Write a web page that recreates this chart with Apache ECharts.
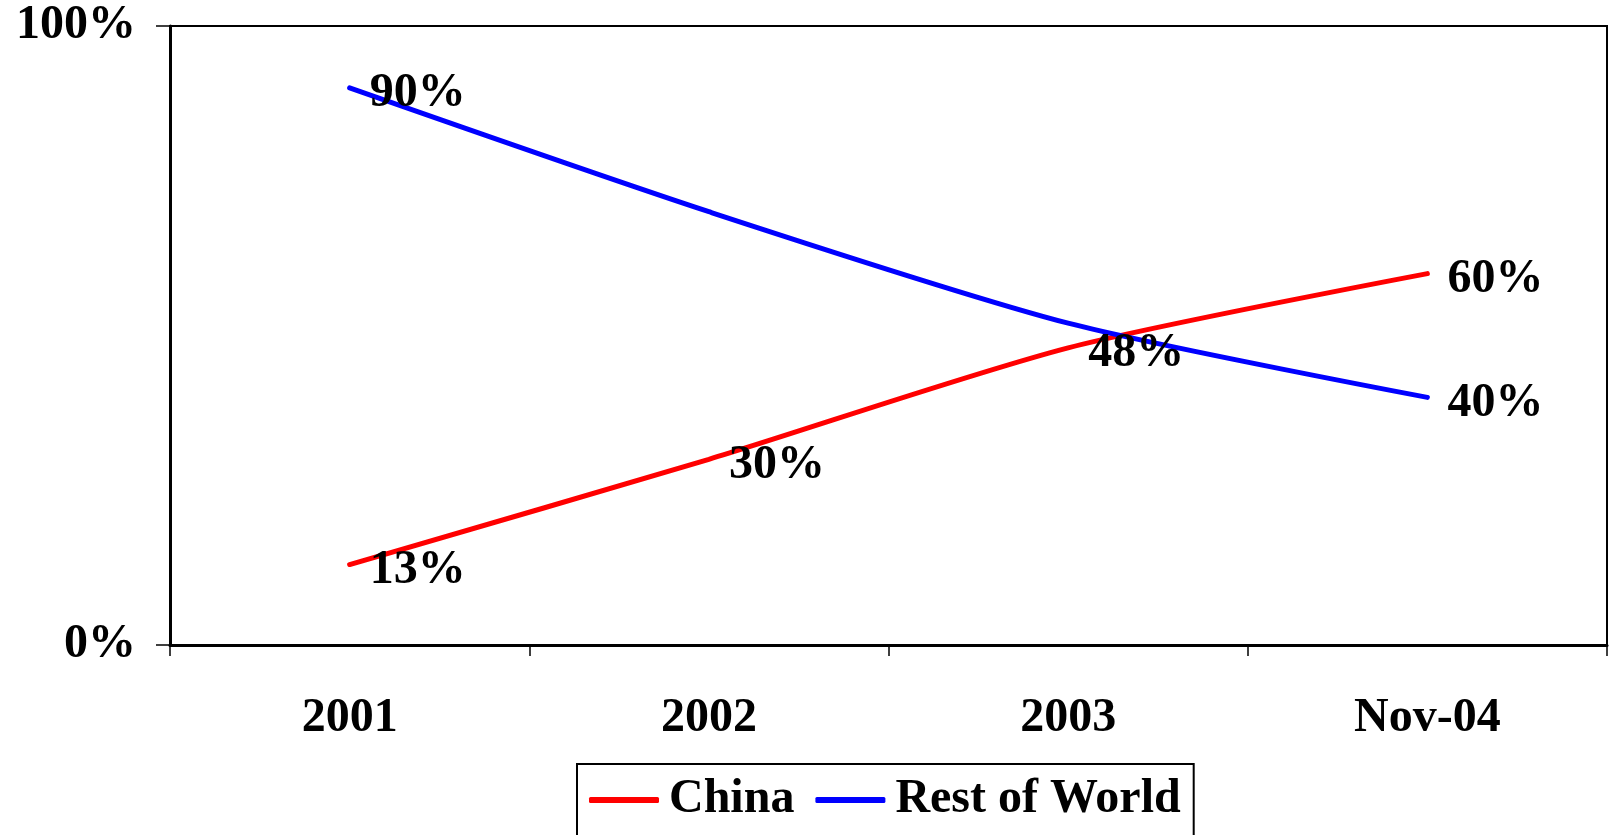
<!DOCTYPE html>
<html>
<head>
<meta charset="utf-8">
<script src="https://cdn.jsdelivr.net/npm/echarts@6/dist/echarts.min.js"></script>
<style>
html,body{margin:0;padding:0;background:#fff;}
#c{width:1615px;height:835px;}
</style>
</head>
<body>
<div id="c"></div>
<script>
const categories = ['2001', '2002', '2003', 'Nov-04'];
const chinaValues = [13, 30, 48, 60];
const rowValues = [90, 70, 52, 40];
const rowLabelShown = [true, false, false, true];
const yTicks = [0, 100];

const FONT = '"Liberation Serif", "Times New Roman", serif';
const chart = echarts.init(document.getElementById('c'), null, {renderer: 'canvas'});

const labelBase = {
  show: true,
  position: 'right',
  distance: 20,
  offset: [0, 6],
  formatter: p => p.value + '%',
  color: '#000',
  fontFamily: FONT,
  fontWeight: 'bold',
  fontSize: 48
};

chart.setOption({
  animation: false,
  backgroundColor: '#fff',
  grid: {
    left: 170, right: 8, top: 26, bottom: 190,
    show: true, borderColor: '#000', borderWidth: 2, backgroundColor: 'transparent'
  },
  legend: {
    left: 577, top: 764,
    padding: [12, 13, 30, 12],
    borderColor: '#000', borderWidth: 2,
    itemWidth: 70, itemHeight: 6, itemGap: 21,
    icon: 'roundRect',
    textStyle: {fontFamily: FONT, fontWeight: 'bold', fontSize: 48, color: '#000', padding: [0, 0, 0, 5]},
    data: ['China', 'Rest of World']
  },
  xAxis: {
    type: 'category',
    data: categories,
    boundaryGap: true,
    axisLine: {lineStyle: {color: '#000', width: 3}},
    axisTick: {show: true, length: 11, lineStyle: {color: '#000', width: 1.5}},
    axisLabel: {color: '#000', fontFamily: FONT, fontWeight: 'bold', fontSize: 48, margin: 50},
    splitLine: {show: false}
  },
  yAxis: {
    type: 'value',
    min: yTicks[0], max: yTicks[1], interval: yTicks[1] - yTicks[0],
    axisLine: {show: true, lineStyle: {color: '#000', width: 3}},
    axisTick: {show: true, length: 14, lineStyle: {color: '#000', width: 1.5}},
    axisLabel: {color: '#000', fontFamily: FONT, fontWeight: 'bold', fontSize: 48, margin: 34, formatter: '{value}%'},
    splitLine: {show: false}
  },
  series: [
    {
      name: 'China', type: 'line', data: chinaValues,
      smooth: 0.25, symbol: 'circle', symbolSize: 0, showSymbol: true,
      color: '#ff0000',
      lineStyle: {color: '#ff0000', width: 5, cap: 'round'},
      label: labelBase
    },
    {
      name: 'Rest of World', type: 'line',
      data: rowValues.map((v, i) => ({value: v, label: {show: rowLabelShown[i]}})),
      smooth: 0.25, symbol: 'circle', symbolSize: 0, showSymbol: true,
      color: '#0000ff',
      lineStyle: {color: '#0000ff', width: 5, cap: 'round'},
      label: labelBase
    }
  ]
});
</script>
</body>
</html>
